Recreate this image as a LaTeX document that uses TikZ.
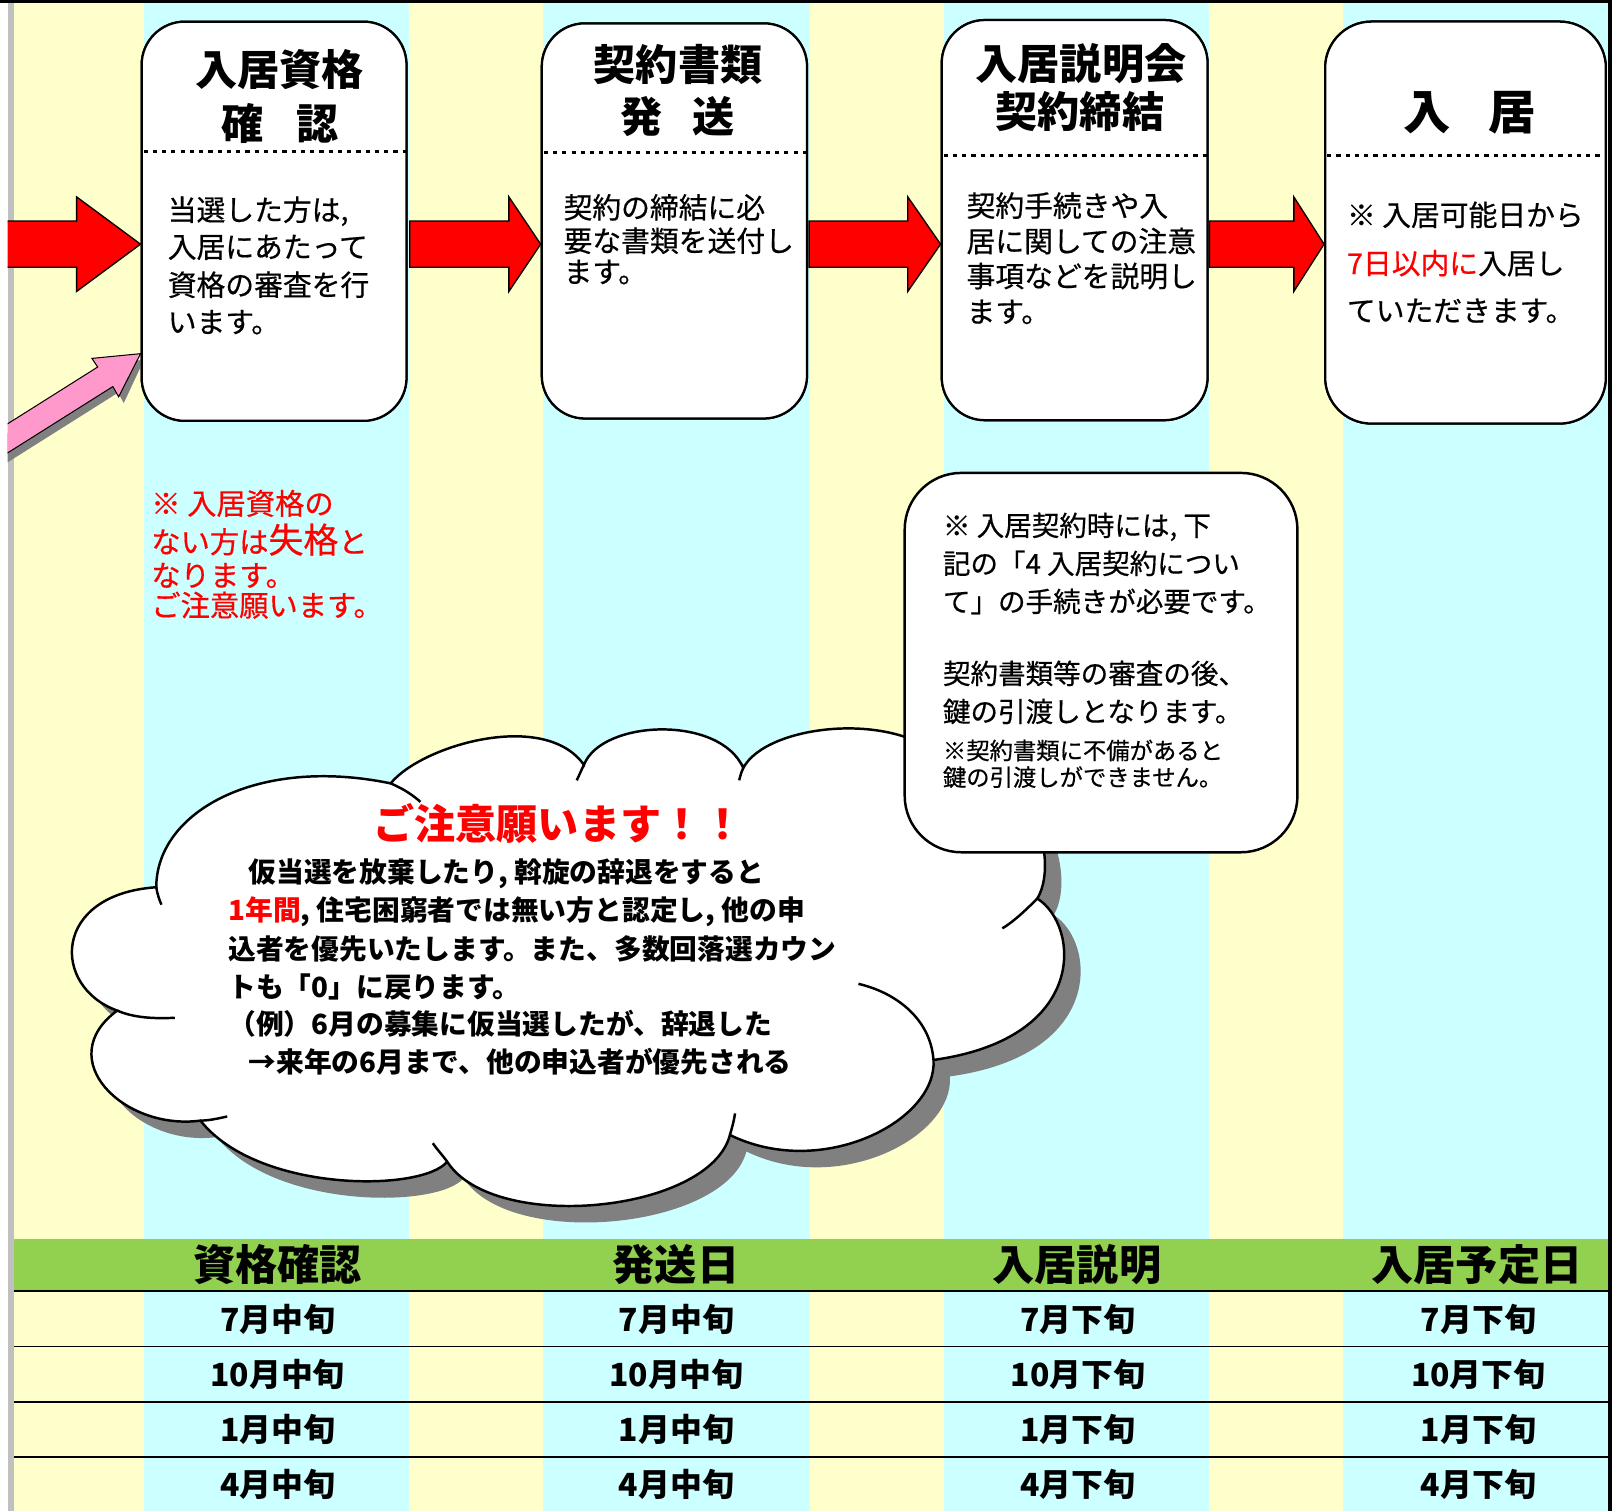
\documentclass[tikz,border=0pt]{standalone}
\usepackage{fontspec}
\setmainfont{Noto Sans CJK JP}
\newfontfamily\jpreg{Noto Sans CJK JP}[FakeBold=0.5]
\usetikzlibrary{calc}
\definecolor{cyanbg}{HTML}{CCFFFF}
\definecolor{yellowbg}{HTML}{FFFFCC}
\definecolor{hdrgreen}{HTML}{92D050}
\definecolor{pinkfill}{HTML}{FF99CC}
\definecolor{shadowgray}{HTML}{808080}
\definecolor{stripgray}{HTML}{C0C0C0}
\definecolor{alertred}{HTML}{FF0000}
\newcommand\fs[1]{\fontsize{#1}{#1}\selectfont}
\newcommand\cloudoutline[1]{%
  \path[#1] (152,863) .. controls (152,790) and (250,735) .. (380,762)
   .. controls (410,725) and (530,690) .. (568,744)
   .. controls (585,700) and (700,695) .. (723,747)
   .. controls (745,705) and (870,690) .. (920,740)
   .. controls (990,720) and (1035,830) .. (1009,874)
   .. controls (1050,900) and (1060,1010) .. (908,1031)
   .. controls (912,1090) and (800,1148) .. (710,1104)
   .. controls (690,1180) and (480,1200) .. (435,1130)
   .. controls (410,1160) and (250,1160) .. (195,1090)
   .. controls (120,1100) and (50,1030) .. (114,983)
   .. controls (50,960) and (50,870) .. (152,863) -- cycle;}
\newcommand\blockarr[3]{%
  \draw[blockarrow] (#1,215) -- (#2,215) -- (#2,191.5) -- (#3.west |- 0,237.5)
    -- (#2,283.5) -- (#2,260) -- (#1,260) -- cycle;}
\begin{document}
\begin{tikzpicture}[x=1pt,y=-1pt,
  stepbox/.style={rectangle, draw=black, line width=2.2pt, fill=white, rounded corners=42pt, inner sep=0pt},
  notebox/.style={stepbox, rounded corners=55pt, line width=2.4pt},
  dotline/.style={line width=3pt, dash pattern=on 4pt off 5pt},
  blockarrow/.style={draw=black, line width=1.3pt, fill=red, line join=miter},
  pinkblock/.style={draw=black, line width=1pt, fill=pinkfill, line join=miter},
  cloudline/.style={draw=black, line width=2.4pt},
  txt/.style={inner sep=0pt, anchor=base west},
  ctxt/.style={inner sep=0pt, anchor=base},
  steptitle/.style={ctxt, font=\bfseries\fs{41}},
  body/.style={txt, font=\jpreg\fs{28}},
  redbody/.style={txt, font=\jpreg\fs{28.5}, text=alertred},
  notetxt/.style={txt, font=\jpreg\fs{26.8}},
  notesmall/.style={txt, font=\jpreg\fs{22.7}},
  cloudtxt/.style={txt, font=\bfseries\fs{27}},
  hdrtxt/.style={ctxt, font=\bfseries\fs{41}},
  rowtxt/.style={ctxt, font=\bfseries\fs{31}},
  rowline/.style={line width=1.5pt}
]
\useasboundingbox (0,0) rectangle (1568,1470);
\fill[white] (0,0) rectangle (1568,1470);
% column stripes
\fill[yellowbg] (7.5,0) rectangle (1564,1470);
\foreach \a/\b in {140/398, 528/788, 918/1176, 1306/1564}
  \fill[cyanbg] (\a,0) rectangle (\b,1470);
\fill[stripgray] (7.5,0) rectangle (13.5,1470);
% table
\fill[hdrgreen] (13.5,1205) rectangle (1564,1256);
\foreach \yy in {1256, 1309.6, 1363.8, 1417.3}
  \draw[rowline] (13.5,\yy) -- (1564,\yy);
% frame
\fill[black] (0,0) rectangle (1568,3);
\fill[black] (1564,0) rectangle (1568,1470);

% step boxes
\node[stepbox, minimum width=257.6pt, minimum height=388.3pt] (box1) at (266.6,215.2) {};
\node[stepbox, minimum width=258pt, minimum height=384.3pt] (box2) at (656,214.9) {};
\node[stepbox, minimum width=258.6pt, minimum height=389.2pt] (box3) at (1045.3,214.1) {};
\node[stepbox, minimum width=273pt, minimum height=391pt, rounded corners=45pt] (box4) at (1425.5,216.5) {};

% arrows
\begin{scope}
\clip (7.5,0) rectangle (1568,1470);
\coordinate (entry) at (0,237.5);
\draw[blockarrow] (entry |- 0,215) -- (74.5,215) -- (74.5,191.5) -- (box1.west |- 0,237.5)
    -- (74.5,283.5) -- (74.5,260) -- (entry |- 0,260) -- cycle;
\fill[shadowgray, shift={(5,6)}] (135,344) -- (89.4,348.6) -- (95,357) -- (0,416.9) -- (0,445.2) -- (109.8,376) -- (115.4,386) -- cycle;
\draw[pinkblock] (box1.west |- 0,344) -- (89.4,348.6) -- (95,357) -- (0,416.9) -- (0,445.2) -- (109.8,376) -- (115.4,386) -- cycle;
\end{scope}
\blockarr{398.5}{495}{box2}
\blockarr{787}{883}{box3}
\blockarr{1176.5}{1258.5}{box4}
% redraw boxes over arrow tips
\node[stepbox, minimum width=257.6pt, minimum height=388.3pt] (box1b) at (box1) {};
\node[stepbox, minimum width=258pt, minimum height=384.3pt] (box2b) at (box2) {};
\node[stepbox, minimum width=258.6pt, minimum height=389.2pt] (box3b) at (box3) {};
\node[stepbox, minimum width=273pt, minimum height=391pt, rounded corners=45pt] (box4b) at (box4) {};

% dotted separators
\draw[dotline] ($(box1.west |- 0,147.6)+(3,0)$) -- ($(box1.east |- 0,147.6)+(-1,0)$);
\draw[dotline] ($(box2.west |- 0,148.6)+(3,0)$) -- ($(box2.east |- 0,148.6)+(-1,0)$);
\draw[dotline] ($(box3.west |- 0,151)+(3,0)$) -- ($(box3.east |- 0,151)+(-1,0)$);
\draw[dotline] ($(box4.west |- 0,151)+(3,0)$) -- ($(box4.east |- 0,151)+(-1,0)$);

% titles
\node[steptitle] (t1a) at (272,83) {入居資格};
\node[steptitle] (t1b) at (272,135.6) {確\hspace{0.78em}認};
\node[steptitle] (t2a) at (659.5,78.6) {契約書類};
\node[steptitle] (t2b) at (659,129.1) {発\hspace{0.72em}送};
\node[steptitle] (t3a) at (1051.5,77.2) {入居説明会};
\node[steptitle] (t3b) at (1050.5,124.3) {契約締結};
\node[ctxt, font=\bfseries\fs{46}] (t4a) at (1429.5,126.2) {入\hspace{0.78em}居};

% bodies
\node[body] (b1a) at (163,214.6) {当選した方は,};
\node[body] (b1b) at (163,250.6) {入居にあたって};
\node[body] (b1c) at (163,287.6) {資格の審査を行};
\node[body] (b1d) at (163,323.6) {います。};
\node[body] (b2a) at (548,212.3) {契約の締結に必};
\node[body] (b2b) at (548,244.8) {要な書類を送付し};
\node[body] (b2c) at (548,274.9) {ます。};
\node[body] (b3a) at (940,210.6) {契約手続きや入};
\node[body] (b3b) at (940,245.1) {居に関しての注意};
\node[body] (b3c) at (940,279.1) {事項などを説明し};
\node[body] (b3d) at (940,313.6) {ます。};
\node[body] (b4a) at (1310,219.6) {※ 入居可能日から};
\node[body] (b4b) at (1310,266.6) {{\color{alertred}7日以内に}入居し};
\node[body] (b4c) at (1310,312.6) {ていただきます。};

% caution text
\node[redbody] (r1) at (147,500.4) {※ 入居資格の};
\node[redbody] (r2) at (147,537.8) {ない方は{\fs{34}失格}と};
\node[redbody] (r3) at (147,570.3) {なります。};
\node[redbody] (r4) at (147,599.5) {ご注意願います。};

% cloud
\begin{scope}[shift={(16,16)}]
\cloudoutline{fill=shadowgray}
\end{scope}
\cloudoutline{fill=white, draw=black, line width=2.4pt}
\draw[cloudline] (152,863) .. controls (153,870) and (155,875) .. (157,880);
\draw[cloudline] (114,983) .. controls (130,990) and (150,991) .. (170,990);
\draw[cloudline] (195,1090) .. controls (203,1090) and (212,1088) .. (221,1086);
\draw[cloudline] (435,1130) .. controls (430,1123) and (425,1118) .. (421,1112);
\draw[cloudline] (710,1104) .. controls (712,1097) and (714,1090) .. (715,1083);
\draw[cloudline] (908,1031) .. controls (905,990) and (870,965) .. (835,957);
\draw[cloudline] (1009,874) .. controls (995,888) and (985,897) .. (975,903);
\draw[cloudline] (723,747) .. controls (721,751) and (720,755) .. (719,759);
\draw[cloudline] (568,744) .. controls (565,750) and (563,755) .. (561,759);
\draw[cloudline] (380,762) .. controls (392,767) and (401,773) .. (409,780);

\node[txt, font=\bfseries\fs{40}, text=alertred] (ctitle) at (363,816.2) {ご注意願います！！};
\node[cloudtxt] (c1) at (241.5,858.3) {仮当選を放棄したり, 斡旋の辞退をすると};
\node[cloudtxt] (c2) at (222,895.8) {{\color{alertred}1年間}, 住宅困窮者では無い方と認定し, 他の申};
\node[cloudtxt] (c3) at (222,932.9) {込者を優先いたします。また、多数回落選カウン};
\node[cloudtxt] (c4) at (222,970.3) {トも「0」に戻ります。};
\node[cloudtxt] (c5) at (222,1006.1) {（例）6月の募集に仮当選したが、辞退した};
\node[cloudtxt] (c6) at (241.5,1043.3) {→来年の6月まで、他の申込者が優先される};

% note box
\node[notebox, minimum width=382pt, minimum height=369pt] (note) at (1071,644.5) {};
\node[notetxt] (n1) at (917,521.2) {※ 入居契約時には, 下};
\node[notetxt] (n2) at (917,558.2) {記の「4 入居契約につい};
\node[notetxt] (n3) at (917,595.2) {て」の手続きが必要です。};
\node[notetxt] (n4) at (917,665.2) {契約書類等の審査の後、};
\node[notetxt] (n5) at (917,702.2) {鍵の引渡しとなります。};
\node[notesmall] (n6) at (917,738.6) {※契約書類に不備があると};
\node[notesmall] (n7) at (917,764.6) {鍵の引渡しができません。};

% table text
\node[hdrtxt] (h1) at (270,1245.6) {資格確認};
\node[hdrtxt] (h2) at (657.5,1245.6) {発送日};
\node[hdrtxt] (h3) at (1047.5,1245.6) {入居説明};
\node[hdrtxt] (h4) at (1436.7,1245.6) {入居予定日};
\foreach \t [count=\i] in {7月中旬,10月中旬,1月中旬,4月中旬} {
  \node[rowtxt] (ra\i) at (270,{1295.4+53.47*(\i-1)}) {\t};
  \node[rowtxt] (rb\i) at (658,{1295.4+53.47*(\i-1)}) {\t};
}
\foreach \t [count=\i] in {7月下旬,10月下旬,1月下旬,4月下旬} {
  \node[rowtxt] (rc\i) at (1048.5,{1295.4+53.47*(\i-1)}) {\t};
  \node[rowtxt] (rd\i) at (1438,{1295.4+53.47*(\i-1)}) {\t};
}
\end{tikzpicture}
\end{document}
